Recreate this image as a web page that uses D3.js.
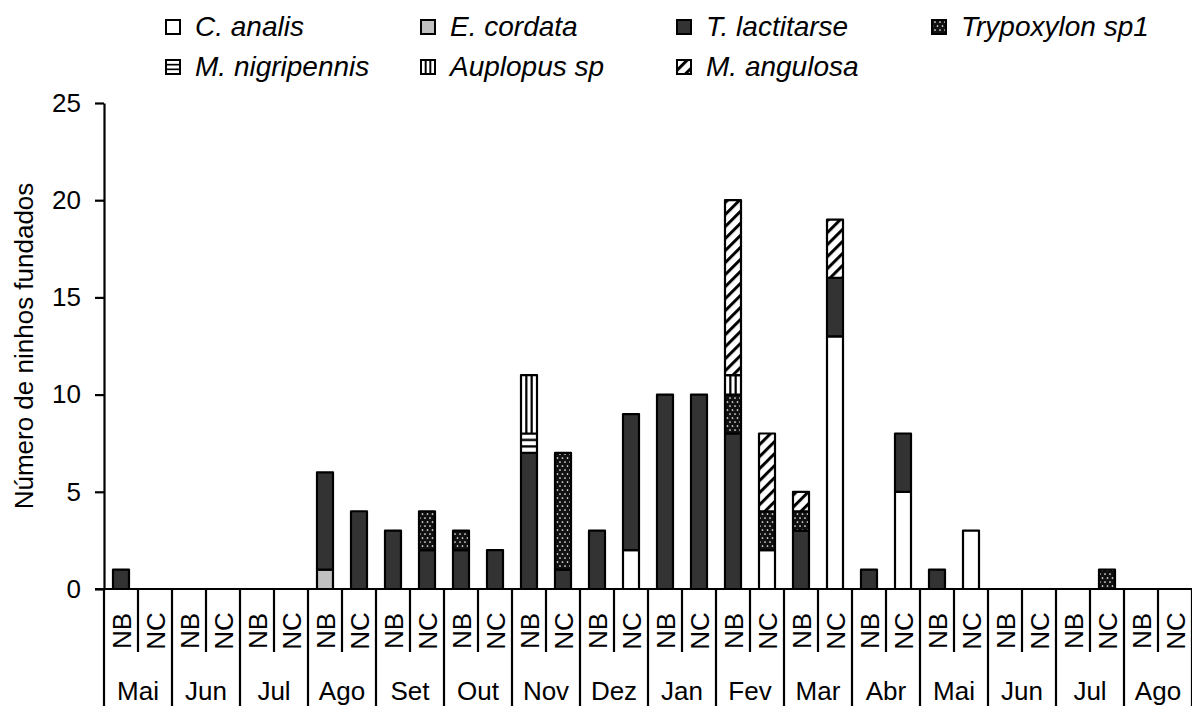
<!DOCTYPE html>
<html><head><meta charset="utf-8">
<script src="https://cdn.jsdelivr.net/npm/d3@7"></script>
<style>body{margin:0;background:#fff} svg{display:block}</style>
</head><body>
<svg id="chart" width="1192" height="706"></svg>
<script>
const months = ["Mai","Jun","Jul","Ago","Set","Out","Nov","Dez","Jan","Fev","Mar","Abr","Mai","Jun","Jul","Ago"];
const subLabels = ["NB","NC"];
const yTicks = [0,5,10,15,20,25];
const species = ["C. analis","E. cordata","T. lactitarse","Trypoxylon sp1","M. nigripennis","Auplopus sp","M. angulosa"];
// 32 categories: each month × NB/NC
const cAnalis      = [0,0, 0,0, 0,0, 0,0, 0,0, 0,0, 0,0, 0,2, 0,0, 0,2, 0,13, 0,5, 0,3, 0,0, 0,0, 0,0];
const eCordata     = [0,0, 0,0, 0,0, 1,0, 0,0, 0,0, 0,0, 0,0, 0,0, 0,0, 0,0, 0,0, 0,0, 0,0, 0,0, 0,0];
const tLactitarse  = [1,0, 0,0, 0,0, 5,4, 3,2, 2,2, 7,1, 3,7, 10,10, 8,0, 3,3, 1,3, 1,0, 0,0, 0,0, 0,0];
const trypoxylon   = [0,0, 0,0, 0,0, 0,0, 0,2, 1,0, 0,6, 0,0, 0,0, 2,2, 1,0, 0,0, 0,0, 0,0, 0,1, 0,0];
const mNigripennis = [0,0, 0,0, 0,0, 0,0, 0,0, 0,0, 1,0, 0,0, 0,0, 0,0, 0,0, 0,0, 0,0, 0,0, 0,0, 0,0];
const auplopus     = [0,0, 0,0, 0,0, 0,0, 0,0, 0,0, 3,0, 0,0, 0,0, 1,0, 0,0, 0,0, 0,0, 0,0, 0,0, 0,0];
const mAngulosa    = [0,0, 0,0, 0,0, 0,0, 0,0, 0,0, 0,0, 0,0, 0,0, 9,4, 1,3, 0,0, 0,0, 0,0, 0,0, 0,0];

const seriesValues = [cAnalis, eCordata, tLactitarse, trypoxylon, mNigripennis, auplopus, mAngulosa];
const fills = ["#ffffff","#c0c0c0","#333333","url(#pDots)","url(#pHoriz)","url(#pVert)","url(#pDiag)"];

const cats = [];
months.forEach((m,mi)=>subLabels.forEach((s,si)=>cats.push({id:mi*2+si, month:m, mi, sub:s})));
const rows = cats.map((c,i)=>{const r={id:c.id}; species.forEach((sp,k)=>r[sp]=seriesValues[k][i]); return r;});

const svg = d3.select("#chart");
const font = "'Liberation Sans', Arial, sans-serif";
const pLeft = 104, pRight = 1192, pTop = 103, pBottom = 589;

const x = d3.scaleBand().domain(cats.map(c=>c.id)).range([pLeft,pRight]).paddingInner(0).paddingOuter(0);
const y = d3.scaleLinear().domain([0,25]).range([pBottom,pTop]);

// patterns
const defs = svg.append("defs");
const pd = defs.append("pattern").attr("id","pDots").attr("patternUnits","userSpaceOnUse").attr("width",5).attr("height",8);
pd.append("rect").attr("width",5).attr("height",8).attr("fill","#111");
pd.append("circle").attr("cx",2.5).attr("cy",2).attr("r",0.85).attr("fill","#fff");
pd.append("circle").attr("cx",0).attr("cy",6).attr("r",0.85).attr("fill","#fff");
pd.append("circle").attr("cx",5).attr("cy",6).attr("r",0.85).attr("fill","#fff");
// horizontal stripes: two black lines per segment
const ph = defs.append("pattern").attr("id","pHoriz").attr("patternUnits","objectBoundingBox")
  .attr("patternContentUnits","objectBoundingBox").attr("width",1).attr("height",1);
ph.append("rect").attr("width",1).attr("height",1).attr("fill","#fff");
[1/3,2/3].forEach(f=>ph.append("rect").attr("x",0).attr("y",f-0.06).attr("width",1).attr("height",0.12).attr("fill","#000"));
// vertical stripes: two black lines per bar
const pv = defs.append("pattern").attr("id","pVert").attr("patternUnits","objectBoundingBox")
  .attr("patternContentUnits","objectBoundingBox").attr("width",1).attr("height",1);
pv.append("rect").attr("width",1).attr("height",1).attr("fill","#fff");
[1/3,2/3].forEach(f=>pv.append("rect").attr("x",f-0.07).attr("y",0).attr("width",0.14).attr("height",1).attr("fill","#000"));
const pg = defs.append("pattern").attr("id","pDiag").attr("patternUnits","userSpaceOnUse").attr("width",8.5).attr("height",8.5).attr("patternTransform","rotate(45)");
pg.append("rect").attr("width",8.5).attr("height",8.5).attr("fill","#fff");
pg.append("rect").attr("width",3).attr("height",8.5).attr("fill","#000");

// stacked bars
const stack = d3.stack().keys(species)(rows);
const bw = 16;
const g = svg.append("g");
stack.forEach((layer,k)=>{
  g.selectAll(null).data(layer.filter(d=>d[1]-d[0]>0)).join("rect")
    .attr("x",d=>x(d.data.id)+x.bandwidth()/2-bw/2)
    .attr("y",d=>y(d[1]))
    .attr("width",bw)
    .attr("height",d=>y(d[0])-y(d[1]))
    .attr("fill",fills[k])
    .attr("stroke","#000").attr("stroke-width",2.2).attr("stroke-linejoin","round");
});

// y axis
const yAxis = svg.append("g").attr("transform",`translate(${pLeft},0)`)
  .call(d3.axisLeft(y).tickValues(yTicks).tickSize(9).tickSizeOuter(0).tickPadding(14));
yAxis.select(".domain").attr("stroke","#000").attr("stroke-width",2.2);
yAxis.selectAll(".tick line").attr("stroke","#000").attr("stroke-width",2.2);
yAxis.selectAll(".tick text").attr("font-family",font).attr("font-size",26).attr("fill","#000");

// x axis line
svg.append("line").attr("x1",pLeft-9).attr("x2",pRight).attr("y1",pBottom).attr("y2",pBottom)
  .attr("stroke","#000").attr("stroke-width",2.2);

// category separators
const bounds = d3.range(cats.length+1);
svg.append("g").selectAll("line").data(bounds).join("line")
  .attr("x1",i=>i<cats.length? x(i): pRight).attr("x2",i=>i<cats.length? x(i): pRight)
  .attr("y1",pBottom).attr("y2",i=>i%2===0?706:652)
  .attr("stroke","#000").attr("stroke-width",2.2);

// sub labels
svg.append("g").selectAll("text").data(cats).join("text")
  .attr("transform",d=>`translate(${x(d.id)+x.bandwidth()/2+9.5},631) rotate(-90)`)
  .attr("text-anchor","middle")
  .attr("font-family",font).attr("font-size",26).attr("fill","#000")
  .text(d=>d.sub);

// month labels
svg.append("g").selectAll("text").data(months).join("text")
  .attr("x",(m,i)=>x(i*2)+x.bandwidth())
  .attr("y",700)
  .attr("text-anchor","middle")
  .attr("font-family",font).attr("font-size",26).attr("fill","#000")
  .text(m=>m);

// y axis title
svg.append("text").attr("transform",`translate(33,${(pTop+pBottom)/2}) rotate(-90)`)
  .attr("text-anchor","middle").attr("font-family",font).attr("font-size",26).attr("fill","#000")
  .text("Número de ninhos fundados");

// legend
const legendPos = [[166,27],[421,27],[677,27],[932,27],[166,67],[421,67],[677,67]];
const lg = svg.append("g");
species.forEach((sp,k)=>{
  const [lx,ly] = legendPos[k];
  lg.append("rect").attr("x",lx).attr("y",ly-7).attr("width",14).attr("height",14)
    .attr("fill",fills[k]).attr("stroke","#000").attr("stroke-width",2);
  lg.append("text").attr("x",lx+29).attr("y",ly+9)
    .attr("font-family",font).attr("font-size",28).attr("font-style","italic").attr("fill","#000")
    .text(sp);
});
</script>
</body></html>
